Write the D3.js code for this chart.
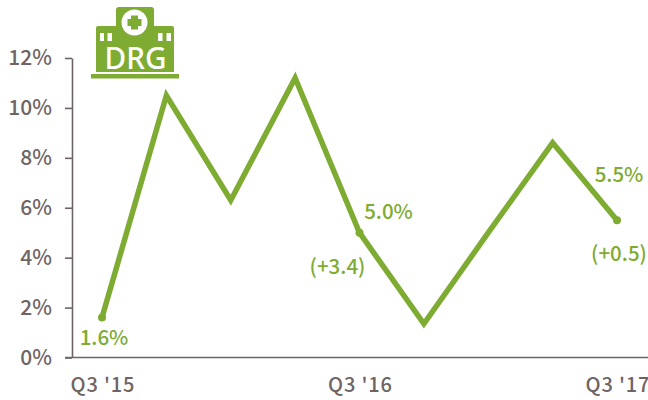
<!DOCTYPE html>
<html><head><meta charset="utf-8">
<script src="https://cdnjs.cloudflare.com/ajax/libs/d3/7.8.5/d3.min.js"></script>
<style>
html,body{margin:0;padding:0;background:#fff}
svg{display:block}
text{font-family:"Noto Sans CJK JP","Noto Sans",sans-serif}
</style></head><body>
<svg id="c" width="648" height="400"></svg>
<script>
const quarters=["Q3 '15","Q4 '15","Q1 '16","Q2 '16","Q3 '16","Q4 '16","Q1 '17","Q2 '17","Q3 '17"];
const shownTicks=["Q3 '15","Q3 '16","Q3 '17"];
const values=[1.6,10.5,6.3,11.2,5.0,1.35,5.0,8.6,5.5];
const yTicks=[0,2,4,6,8,10,12];
const dotted=["Q3 '15","Q3 '16","Q3 '17"];
const labels=[
 {q:"Q3 '15",t:"1.6%",dx:2,dy:27},
 {q:"Q3 '16",t:"5.0%",dx:29,dy:-14},
 {q:"Q3 '16",t:"(+3.4)",dx:-22,dy:41},
 {q:"Q3 '17",t:"5.5%",dx:2,dy:-38},
 {q:"Q3 '17",t:"(+0.5)",dx:2,dy:41}
];
const green="#7eab32", grey="#6f6464";
const svg=d3.select("#c");
const x=d3.scalePoint().domain(quarters).range([102,617]);
const y=d3.scaleLinear().domain([0,12]).range([357.5,58]);

const yAxis=svg.append("g").attr("transform","translate(72,0)")
 .call(d3.axisLeft(y).tickValues(yTicks).tickFormat(d=>d+"%").tickSize(7).tickSizeOuter(0).tickPadding(13));
const xAxis=svg.append("g").attr("transform","translate(0,357.5)")
 .call(d3.axisBottom(x).tickValues(shownTicks).tickSize(0).tickPadding(20));
xAxis.select(".domain").attr("d","M65,0H648");
[yAxis,xAxis].forEach(g=>{
 g.selectAll(".domain,.tick line").attr("stroke",grey).attr("stroke-width",1.6);
 g.selectAll("text").attr("fill",grey).attr("font-size",21).attr("font-weight",500);
});
xAxis.selectAll("text").attr("font-size",20).attr("font-weight",500).attr("textLength",64).attr("lengthAdjust","spacing");

svg.append("path").datum(values)
 .attr("fill","none").attr("stroke",green).attr("stroke-width",5.5).attr("stroke-linejoin","miter")
 .attr("d",d3.line().x((d,i)=>x(quarters[i])).y(d=>y(d)));
svg.selectAll("circle.pt").data(dotted).join("circle").attr("class","pt")
 .attr("cx",d=>x(d)).attr("cy",d=>y(values[quarters.indexOf(d)])).attr("r",4).attr("fill",green);
svg.selectAll("text.lab").data(labels).join("text").attr("class","lab")
 .attr("x",d=>x(d.q)+d.dx).attr("y",d=>y(values[quarters.indexOf(d.q)])+d.dy)
 .attr("text-anchor","middle").attr("fill",green).attr("font-size",20.5).attr("font-weight",500)
 .text(d=>d.t);

// DRG hospital icon
const ic=svg.append("g");
ic.append("rect").attr("x",91).attr("y",74).attr("width",88).attr("height",4.5).attr("fill",green);
ic.append("path").attr("fill",green).attr("d","M96,72V28q0,-2 2,-2H116V10q0,-3 3,-3H151q3,0 3,3V26H172q2,0 2,2V72Z");
ic.append("circle").attr("cx",134.5).attr("cy",22.5).attr("r",13).attr("fill","#fff");
ic.append("path").attr("fill",green).attr("d","M131,15.5h7v3.5h3.5v7h-3.5v3.5h-7v-3.5h-3.5v-7h3.5Z");
[[100,4],[107.5,4.5],[158,4.5],[166.5,4.5]].forEach(([a,w])=>ic.append("rect").attr("x",a).attr("y",33).attr("width",w).attr("height",8).attr("fill","#fff"));
ic.append("text").attr("x",135.5).attr("y",68.5).attr("text-anchor","middle").attr("fill","#fff")
 .attr("font-size",30).attr("font-weight",500).attr("textLength",62).attr("lengthAdjust","spacingAndGlyphs").style("font-family","'Noto Sans',sans-serif").text("DRG");
</script></body></html>
